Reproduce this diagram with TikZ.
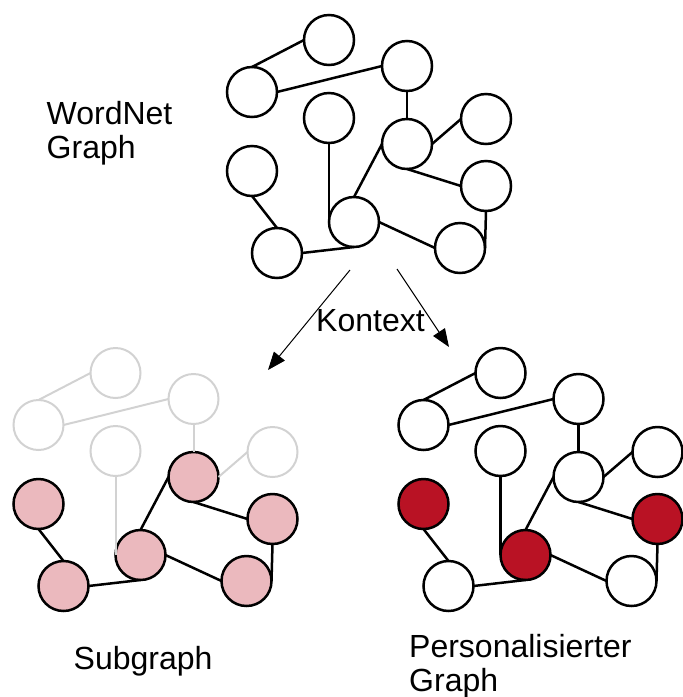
\documentclass[tikz,border=0pt]{standalone}
\usepackage{fontspec}
\setmainfont{Liberation Sans}
\usetikzlibrary{arrows.meta}

\definecolor{softpink}{RGB}{235,185,190}
\definecolor{deepred}{RGB}{185,18,36}
\definecolor{ghost}{RGB}{210,210,210}

\tikzset{
  vtx/.style={circle,draw=black,line width=2.5pt,fill=white,minimum size=50pt,inner sep=0pt,outer sep=0pt},
  link/.style={draw=black,line width=2.5pt},
  ghostly/.style={draw=ghost,line width=2pt},
  hilite/.style={fill=softpink},
  chosen/.style={fill=deepred},
  heading/.style={font=\fontsize{32}{34}\selectfont,inner sep=0pt,align=left},
  flow/.style={line width=1pt,-{Triangle[length=18pt,width=14pt]}},
  % per-graph hooks for vertices and links (empty by default)
  vA/.style={},vB/.style={},vC/.style={},vD/.style={},vE/.style={},vF/.style={},
  vG/.style={},vH/.style={},vI/.style={},vJ/.style={},vK/.style={},
  eAB/.style={},eBC/.style={},eCE/.style={},eEF/.style={},eEH/.style={},
  eEI/.style={},eDI/.style={},eGJ/.style={},eJI/.style={},eIK/.style={},eHK/.style={}
}

% the WordNet-style graph; #1 is a name prefix for its vertices
\newcommand\wordgraph[1]{%
  \node[vtx,vA] (#1A) at (329,40) {};
  \node[vtx,vB] (#1B) at (252,92) {};
  \node[vtx,vC] (#1C) at (407,66) {};
  \node[vtx,vD] (#1D) at (329,118) {};
  \node[vtx,vE] (#1E) at (407,144) {};
  \node[vtx,vF] (#1F) at (486,119) {};
  \node[vtx,vG] (#1G) at (252,171) {};
  \node[vtx,vH] (#1H) at (486,186) {};
  \node[vtx,vI] (#1I) at (354,222) {};
  \node[vtx,vJ] (#1J) at (277,253) {};
  \node[vtx,vK] (#1K) at (460,248) {};
  \draw[link,eAB] (#1A.west) -- (#1B.north);
  \draw[link,eBC] (#1B.east) -- (#1C.west);
  \draw[link,eCE] (#1C.south) -- (#1E.north);
  \draw[link,eEF] (#1E.east) -- (#1F.west);
  \draw[link,eEH] (#1E.south) -- (#1H.west);
  \draw[link,eEI] (#1E.west) -- (#1I.north);
  \draw[link,eDI] (#1D.south) -- (#1I.west);
  \draw[link,eGJ] (#1G.south) -- (#1J.north);
  \draw[link,eJI] (#1J.east) -- (#1I.south);
  \draw[link,eIK] (#1I.east) -- (#1K.west);
  \draw[link,eHK] (#1H.south) -- (#1K.east);
}

\begin{document}
\begin{tikzpicture}[x=1pt,y=-1pt]
  \useasboundingbox (0,0) rectangle (683,697);

  % full graph
  \wordgraph{w}
  % two-line titles are placed by the baseline of their last line
  \node[heading,anchor=base west] (wtitle) at (46.5,158) {WordNet\\Graph};

  % context arrows
  \coordinate (ls) at (350,270);
  \coordinate (le) at (268,370);
  \coordinate (rs) at (397,269);
  \coordinate (re) at (449,347);
  \draw[flow] (ls) -- (le);
  \draw[flow] (rs) -- (re);
  \node[heading,anchor=base west] (ctx) at (316,331) {Kontext};

  % subgraph
  \begin{scope}[shift={(-213.5,333)},
      vA/.style={ghostly},vB/.style={ghostly},vC/.style={ghostly},
      vD/.style={ghostly},vF/.style={ghostly},
      vE/.style={hilite},vG/.style={hilite},vH/.style={hilite},
      vI/.style={hilite},vJ/.style={hilite},vK/.style={hilite},
      eAB/.style={ghostly},eBC/.style={ghostly},eCE/.style={ghostly},
      eEF/.style={ghostly},eDI/.style={ghostly}]
    \wordgraph{s}
  \end{scope}
  \node[heading,anchor=base west] (stitle) at (73.5,669.3) {Subgraph};

  % personalised graph
  \begin{scope}[shift={(171.5,333)},
      vG/.style={chosen},vI/.style={chosen},vH/.style={chosen}]
    \wordgraph{p}
  \end{scope}
  \node[heading,anchor=base west] (ptitle) at (409,691.5) {Personalisierter\\Graph};
\end{tikzpicture}
\end{document}
